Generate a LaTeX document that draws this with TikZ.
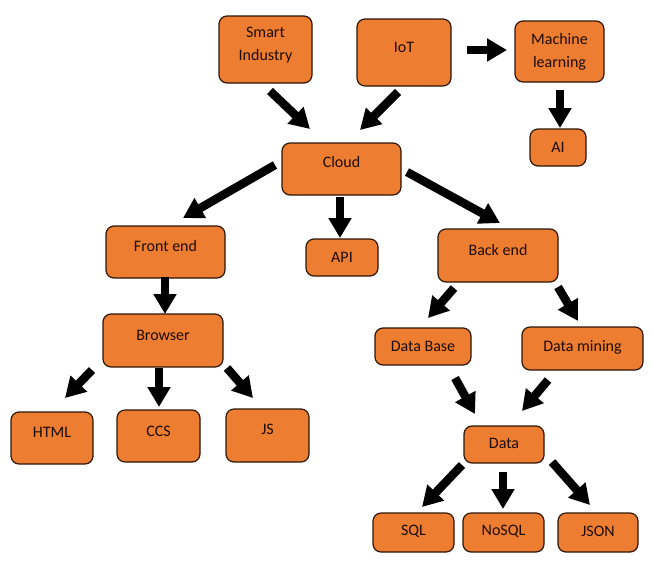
\documentclass[tikz,border=0pt]{standalone}
\usepackage{fontspec}
\setmainfont{Carlito}
\usetikzlibrary{arrows.meta}
\definecolor{boxfill}{HTML}{ED7D31}
\definecolor{boxline}{HTML}{2E1606}
\definecolor{boxtext}{HTML}{1E0C02}
\tikzset{
  box/.style={draw=boxline, line width=1.2pt, fill=boxfill, rounded corners=8pt,
    inner sep=0pt, rectangle},
  txt/.style={text=boxtext, align=center, inner sep=0pt,
    font=\fontsize{16}{23}\selectfont},
  bigarrow/.style={draw=black, line width=8.5pt,
    -{Triangle[length=20pt, width=22pt]}},
}
\newcommand{\boxat}[6]{% name, center x, center y, width, height, text shift
  \node[box, minimum width=#4pt, minimum height=#5pt] (#1) at (#2,#3) {};
  \node[txt] (#1-t) at ([yshift=#6pt]#1.center)}
\begin{document}
\begin{tikzpicture}[x=1pt, y=-1pt]
\useasboundingbox (0,0) rectangle (653,563);

% boxes and their labels
\boxat{si}{265.5}{49.5}{93}{67}{4}{Smart\\Industry};
\boxat{iot}{404}{52.5}{94}{67}{5}{IoT};
\boxat{ml}{559.5}{51.5}{89}{61}{0}{Machine\\learning};
\boxat{ai}{558}{147.5}{56}{37}{0}{AI};
\boxat{cloud}{341.5}{169}{119}{52}{7}{Cloud};
\boxat{front}{165.5}{252}{119}{52}{6}{Front end};
\boxat{api}{342}{257.5}{72}{37}{0}{API};
\boxat{back}{498}{255.5}{120}{53}{6}{Back end};
\boxat{browser}{163}{340.5}{120}{53}{5}{Browser};
\boxat{html}{52}{438}{82}{52}{6}{HTML};
\boxat{ccs}{158.5}{436}{83}{52}{5}{CCS};
\boxat{js}{267.5}{435.5}{83}{53}{6}{JS};
\boxat{db}{423}{346.5}{96}{37}{0}{Data Base};
\boxat{dm}{582.5}{348.5}{121}{43}{1}{Data mining};
\boxat{data}{504}{444.5}{80}{37}{1}{Data};
\boxat{sql}{413.5}{532.5}{81}{39}{1}{SQL};
\boxat{nosql}{503.5}{532.5}{81}{39}{1}{NoSQL};
\boxat{json}{598}{532.5}{80}{39}{1}{JSON};

% arrow ends, kept clear of the boxes
\coordinate (si-o) at (270,91);     \coordinate (cloud-i1) at (310,129);
\coordinate (iot-o) at (398,92);    \coordinate (cloud-i2) at (360,130);
\coordinate (iot-o2) at (467,50);   \coordinate (ml-i) at (507,50);
\coordinate (ml-o) at (560,90);     \coordinate (ai-i) at (560,128);
\coordinate (cloud-o1) at (275,165);\coordinate (front-i) at (183,218);
\coordinate (cloud-o2) at (340,197);\coordinate (api-i) at (340,238);
\coordinate (cloud-o3) at (407,172);\coordinate (back-i) at (500,223);
\coordinate (front-o) at (165,277); \coordinate (browser-i) at (165,314);
\coordinate (browser-o1) at (92,370);\coordinate (html-i) at (65,398);
\coordinate (browser-o2) at (159,368);\coordinate (ccs-i) at (159,407);
\coordinate (browser-o3) at (227,368);\coordinate (js-i) at (253,398);
\coordinate (back-o1) at (454,288); \coordinate (db-i) at (428,318);
\coordinate (back-o2) at (558,287); \coordinate (dm-i) at (578,321);
\coordinate (db-o) at (455,378);    \coordinate (data-i1) at (475,414);
\coordinate (dm-o) at (548,380);    \coordinate (data-i2) at (522,411);
\coordinate (data-o1) at (462,465); \coordinate (sql-i) at (422,507);
\coordinate (data-o2) at (503,472); \coordinate (nosql-i) at (503,509);
\coordinate (data-o3) at (552,462); \coordinate (json-i) at (590,505);

% arrows
\draw[bigarrow] (si-o) -- (cloud-i1);
\draw[bigarrow] (iot-o) -- (cloud-i2);
\draw[bigarrow] (iot-o2) -- (ml-i);
\draw[bigarrow] (ml-o) -- (ai-i);
\draw[bigarrow] (cloud-o1) -- (front-i);
\draw[bigarrow] (cloud-o2) -- (api-i);
\draw[bigarrow] (cloud-o3) -- (back-i);
\draw[bigarrow] (front-o) -- (browser-i);
\draw[bigarrow] (browser-o1) -- (html-i);
\draw[bigarrow] (browser-o2) -- (ccs-i);
\draw[bigarrow] (browser-o3) -- (js-i);
\draw[bigarrow] (back-o1) -- (db-i);
\draw[bigarrow] (back-o2) -- (dm-i);
\draw[bigarrow] (db-o) -- (data-i1);
\draw[bigarrow] (dm-o) -- (data-i2);
\draw[bigarrow] (data-o1) -- (sql-i);
\draw[bigarrow] (data-o2) -- (nosql-i);
\draw[bigarrow] (data-o3) -- (json-i);
\end{tikzpicture}
\end{document}
